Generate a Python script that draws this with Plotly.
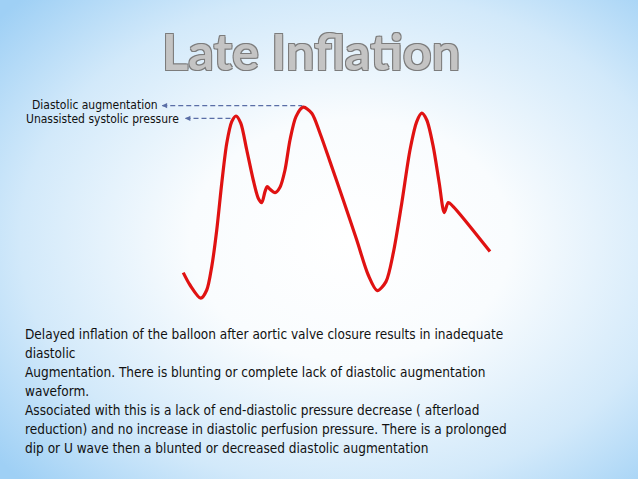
import base64
import plotly.graph_objects as go

# ---- data -------------------------------------------------------------
# arterial pressure waveform (time in ms, pressure in mmHg)
time_ms = [0, 27, 70, 94, 114, 134, 154, 174, 194, 211, 230, 254, 280, 300, 314,
           327, 336, 347, 367, 387, 407, 427, 451, 480, 514, 547, 587, 640, 694,
           740, 776, 811, 840, 874, 907, 934, 954, 974, 1000, 1024, 1044, 1060,
           1080, 1227]
pressure = [63.7, 57.5, 50.9, 55.0, 66.7, 85.0, 108.4, 128.4, 139.2, 142.0, 138.4,
            125.0, 110.0, 100.9, 98.7, 104.2, 106.7, 105.4, 103.7, 106.4, 115.0,
            130.0, 141.7, 146.4, 143.4, 133.4, 119.2, 100.0, 80.0, 62.5, 54.7,
            59.2, 73.4, 98.4, 125.0, 139.2, 143.4, 140.0, 126.7, 108.4, 93.7,
            98.7, 96.7, 74.2]

title_text = "Late Inflation"
label_diastolic = "Diastolic augmentation"
label_systolic = "Unassisted systolic pressure"
body_lines = [
    "Delayed inflation of the balloon after aortic valve closure results in inadequate",
    "diastolic",
    "Augmentation. There is blunting or complete lack of diastolic augmentation",
    "waveform.",
    "Associated with this is a lack of end-diastolic pressure decrease ( afterload",
    "reduction) and no increase in diastolic perfusion pressure. There is a prolonged",
    "dip or U wave then a blunted or decreased diastolic augmentation",
]

# ---- derived reference points ----------------------------------------
i_dia = pressure.index(max(pressure))            # diastolic augmentation peak
i_sys = pressure.index(max(pressure[:12]))       # unassisted systolic peak
X_RANGE = [-733, 1819]
Y_RANGE = [-39.5, 200]

W, H = 638, 479

# ---- background gradient ---------------------------------------------
svg = (
    "<svg xmlns='http://www.w3.org/2000/svg' width='638' height='479' preserveAspectRatio='none'>"
    "<defs><radialGradient id='g' cx='0.55' cy='0.5' r='0.72'>"
    "<stop offset='0' stop-color='#ffffff'/>"
    "<stop offset='0.35' stop-color='#f9fcfe'/>"
    "<stop offset='0.72' stop-color='#d2e9fa'/>"
    "<stop offset='1' stop-color='#9fd0f5'/>"
    "</radialGradient></defs>"
    "<rect width='638' height='479' fill='url(#g)'/></svg>"
)
bg_src = "data:image/svg+xml;base64," + base64.b64encode(svg.encode()).decode()

fig = go.Figure()

fig.add_trace(go.Scatter(
    x=time_ms, y=pressure, mode="lines",
    line=dict(color="#e01212", width=3.2, shape="spline", smoothing=0.8),
    hoverinfo="skip", showlegend=False,
))

dash_color = "#5a6ea6"
# dashed leader lines
fig.add_shape(type="line", xref="x", yref="y",
              x0=-84, x1=time_ms[i_dia] - 4, y0=pressure[i_dia] + 0.8, y1=pressure[i_dia] + 0.8,
              line=dict(color=dash_color, width=1.2, dash="5px,3px"))
fig.add_shape(type="line", xref="x", yref="y",
              x0=9, x1=time_ms[i_sys] - 14, y0=pressure[i_sys] - 1.2, y1=pressure[i_sys] - 1.2,
              line=dict(color=dash_color, width=1.2, dash="5px,3px"))
# arrowheads
for xt, yt in [(-86, pressure[i_dia] + 0.8), (7, pressure[i_sys] - 1.2)]:
    fig.add_annotation(x=xt, y=yt, ax=xt + 20, ay=yt, xref="x", yref="y",
                       axref="x", ayref="y", text="", showarrow=True,
                       arrowhead=2, arrowsize=0.9, arrowwidth=1.2,
                       arrowcolor=dash_color)

label_font = dict(family="DejaVu Sans Condensed, DejaVu Sans", size=12, color="#111111")
fig.add_annotation(x=160 / W, y=1 - 105 / H, xref="paper", yref="paper",
                   text=label_diastolic, showarrow=False, xanchor="right",
                   yanchor="middle", font=label_font)
fig.add_annotation(x=181 / W, y=1 - 119 / H, xref="paper", yref="paper",
                   text=label_systolic, showarrow=False, xanchor="right",
                   yanchor="middle", font=label_font)

# title
fig.add_annotation(x=311 / W, y=1 - 50 / H, xref="paper", yref="paper",
                   text="<b>" + title_text + "</b>", showarrow=False,
                   xanchor="center", yanchor="middle",
                   font=dict(family="Lato, Open Sans", size=50.5, color="#c4c4c4",
                             shadow="-1px -1px 0 #7c7c7c, 1px -1px 0 #7c7c7c, -1px 1px 0 #7c7c7c, 1px 1px 0 #7c7c7c"))

# body text
body_font = dict(family="DejaVu Sans Condensed, DejaVu Sans", size=13.5, color="#111111")
for k, line in enumerate(body_lines):
    fig.add_annotation(x=23 / W, y=1 - (333.5 + 19.1 * k) / H, xref="paper", yref="paper",
                       text=line, showarrow=False, xanchor="left", yanchor="middle",
                       font=body_font)

fig.update_layout(
    width=W, height=H,
    margin=dict(l=0, r=0, t=0, b=0),
    paper_bgcolor="#ffffff", plot_bgcolor="rgba(0,0,0,0)",
    xaxis=dict(range=X_RANGE, visible=False, domain=[0, 1]),
    yaxis=dict(range=Y_RANGE, visible=False, domain=[0, 1]),
    images=[dict(source=bg_src, xref="paper", yref="paper", x=0, y=1,
                 sizex=1, sizey=1, sizing="stretch", layer="below",
                 xanchor="left", yanchor="top")],
    showlegend=False,
)

fig.write_html("out.html", config={"displayModeBar": False},
               post_script="document.body.style.margin='0';document.body.style.overflow='hidden';")
